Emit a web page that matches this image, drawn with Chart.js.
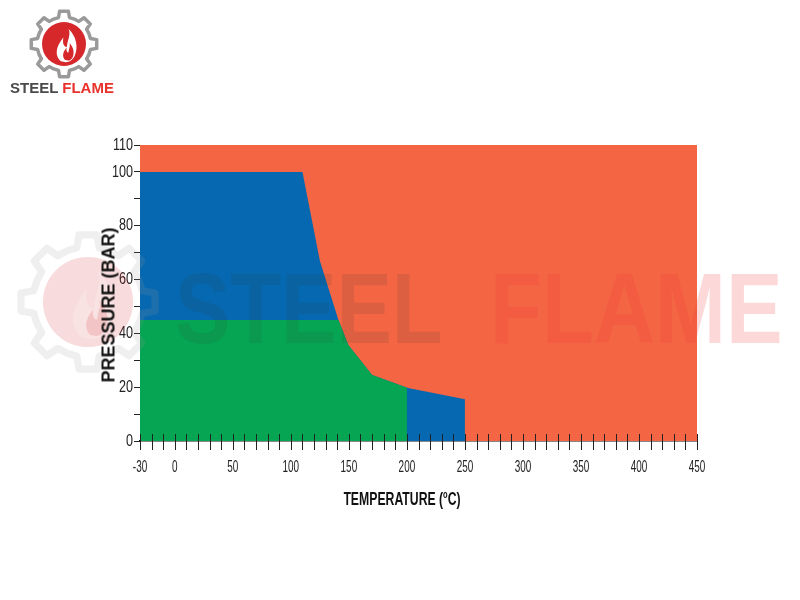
<!DOCTYPE html>
<html>
<head>
<meta charset="utf-8">
<script src="https://cdn.jsdelivr.net/npm/chart.js@4/dist/chart.umd.min.js"></script>
<style>
  body { margin:0; background:#fff; }
  #wrap { position:relative; width:800px; height:600px; overflow:hidden; }
  #wrap canvas { position:absolute; left:0; top:0; }
  .lbl { position:absolute; white-space:nowrap; font-weight:bold; color:#111; }
  .ytitle { left:109px; top:305px; font:bold 18px 'Liberation Sans', Arial, sans-serif;
            transform:translate(-50%,-50%) rotate(-90deg); }
  .xtitle { left:402px; top:499px; font:bold 18px 'Liberation Sans', Arial, sans-serif;
            transform:translate(-50%,-50%) scaleX(0.68); }
  .xtitle sup { font-size:11px; vertical-align:7px; }
  .brand { left:10px; top:79px; font:bold 15px 'Liberation Sans', Arial, sans-serif; }
  .brand .a { color:#4a4a4a; } .brand .b { color:#e8322b; }
  .wm { position:absolute; top:251px; line-height:100px; white-space:nowrap; pointer-events:none;
        font:bold 100px 'Liberation Sans', Arial, sans-serif; transform-origin:0 0; }
</style>
</head>
<body>
<div id="wrap">
  <canvas id="chart" width="800" height="600"></canvas>
  <div class="wm" style="left:175px;color:rgba(60,60,60,0.12);transform:scaleX(0.83)">STEEL</div>
  <div class="wm" style="left:490px;color:rgba(245,60,60,0.2);transform:scaleX(0.85)">FLAME</div>
  <div class="lbl brand"><span class="a">STEEL</span> <span class="b">FLAME</span></div>
  <div class="lbl ytitle">PRESSURE (BAR)</div>
  <div class="lbl xtitle">TEMPERATURE (<sup>o</sup>C)</div>
</div>
<script>
// region boundaries (temperature °C / pressure bar)
const orangeT = [-30, 450];
const orangeP = [110, 110];
const blueT = [-30, 110, 125, 141, 149.5, 170, 201, 250, 250];
const blueP = [100, 100, 67, 45, 35.7, 24.5, 19.7, 15.5, 0];
const greenT = [-30, 141, 149.5, 170, 200, 200];
const greenP = [45, 45, 35.7, 24.5, 19.8, 0];
const xLabels = [-30, 0, 50, 100, 150, 200, 250, 300, 350, 400, 450];
const yLabels = [0, 20, 40, 60, 80, 100, 110];

const ORANGE = '#f36543', BLUE = '#0568b0', GREEN = '#05a553';
const TICKFONT = "'Liberation Sans', Arial, sans-serif";

const pts = (t, p) => t.map((v, i) => ({ x: v, y: p[i] }));
const area = (t, p, c) => ({ data: pts(t, p), showLine: true, fill: 'origin', backgroundColor: c,
  borderWidth: 0, pointRadius: 0, tension: 0 });

function gearPath(ctx, cx, cy, rOut, rIn, n, rot) {
  const s = Math.PI * 2 / n;
  ctx.beginPath();
  for (let i = 0; i < n; i++) {
    const a = rot + i * s;
    [[rIn, -0.5], [rIn, -0.26], [rOut, -0.17], [rOut, 0.17], [rIn, 0.26]].forEach(([r, f]) =>
      ctx.lineTo(cx + r * Math.cos(a + f * s), cy + r * Math.sin(a + f * s)));
  }
  ctx.closePath();
}

function flame(ctx, cx, cy, s) {
  ctx.beginPath();
  ctx.moveTo(cx - 0.3*s, cy + 0.9*s);
  ctx.bezierCurveTo(cx - 0.75*s, cy + 0.5*s, cx - 0.5*s, cy - 0.1*s, cx - 0.15*s, cy - 0.5*s);
  ctx.bezierCurveTo(cx - 0.25*s, cy - 0.1*s, cx - 0.05*s, cy + 0.1*s, cx + 0.05*s, cy + 0.05*s);
  ctx.bezierCurveTo(cx + 0.1*s, cy - 0.4*s, cx + 0.3*s, cy - 0.7*s, cx + 0.15*s, cy - 1.0*s);
  ctx.bezierCurveTo(cx + 0.6*s, cy - 0.6*s, cx + 0.75*s, cy + 0.1*s, cx + 0.5*s, cy + 0.6*s);
  ctx.bezierCurveTo(cx + 0.4*s, cy + 0.8*s, cx + 0.2*s, cy + 0.95*s, cx, cy + 0.95*s);
  ctx.closePath();
}

function logo(ctx, cx, cy, k, alpha) {
  ctx.save();
  ctx.globalAlpha = alpha;
  gearPath(ctx, cx, cy, 33 * k, 27 * k, 8, -Math.PI / 2);
  ctx.strokeStyle = '#9a9a9a'; ctx.lineWidth = 3.5 * k; ctx.lineJoin = 'round';
  ctx.stroke();
  ctx.beginPath(); ctx.arc(cx, cy, 22 * k, 0, Math.PI * 2);
  ctx.fillStyle = '#d6282b'; ctx.fill();
  flame(ctx, cx + 2 * k, cy + 2 * k, 17 * k);
  ctx.fillStyle = '#fff'; ctx.fill();
  flame(ctx, cx + 4 * k, cy + 8 * k, 9 * k);
  ctx.fillStyle = '#d6282b'; ctx.fill();
  ctx.restore();
}

// narrow tick text, placed from the scales' own ticks
function narrowText(ctx, txt, x, y, sx, align) {
  ctx.save();
  ctx.translate(x, y); ctx.scale(sx, 1);
  ctx.textAlign = align; ctx.textBaseline = 'middle';
  ctx.fillText(txt, 0, 0);
  ctx.restore();
}

const decor = {
  id: 'decor',
  beforeDraw(chart) {
    logo(chart.ctx, 64, 44, 1, 1);
  },
  afterDatasetsDraw(chart) {
    const { ctx, chartArea, scales: { x, y } } = chart;
    ctx.save();
    ctx.strokeStyle = '#222'; ctx.lineWidth = 1;
    ctx.beginPath();
    x.ticks.forEach(t => {
      const px = Math.round(x.getPixelForValue(t.value)) + 0.5;
      ctx.moveTo(px, chartArea.bottom - 7);
      ctx.lineTo(px, chartArea.bottom + 9);
    });
    ctx.stroke();
    ctx.fillStyle = '#222';
    ctx.font = '16px ' + TICKFONT;
    x.ticks.filter(t => xLabels.includes(t.value)).forEach(t =>
      narrowText(ctx, String(t.value), x.getPixelForValue(t.value), chartArea.bottom + 27, 0.62, 'center'));
    ctx.font = '17px ' + TICKFONT;
    y.ticks.filter(t => yLabels.includes(t.value)).forEach(t =>
      narrowText(ctx, String(t.value), chartArea.left - 7, y.getPixelForValue(t.value), 0.74, 'right'));
    ctx.restore();
    logo(ctx, 88, 302, 2.05, 0.16);
  }
};

new Chart(document.getElementById('chart'), {
  type: 'scatter',
  data: { datasets: [area(greenT, greenP, GREEN), area(blueT, blueP, BLUE), area(orangeT, orangeP, ORANGE)] },
  options: {
    responsive: false, animation: false,
    layout: { padding: { top: 145, right: 103, left: 0, bottom: 0 } },
    plugins: { legend: { display: false }, tooltip: { enabled: false } },
    scales: {
      x: {
        type: 'linear', min: -30, max: 450,
        afterFit: s => { s.height = 159; },
        grid: { display: false },
        border: { display: true, color: '#111', width: 1.5 },
        ticks: { stepSize: 10, autoSkip: false, display: false }
      },
      y: {
        type: 'linear', min: 0, max: 110,
        afterFit: s => { s.width = 140; },
        grid: { display: true, drawOnChartArea: false, drawTicks: true, tickLength: 6, color: '#222' },
        border: { display: true, color: '#111', width: 1 },
        ticks: { stepSize: 10, autoSkip: false, display: false }
      }
    }
  },
  plugins: [decor]
});
</script>
</body>
</html>
